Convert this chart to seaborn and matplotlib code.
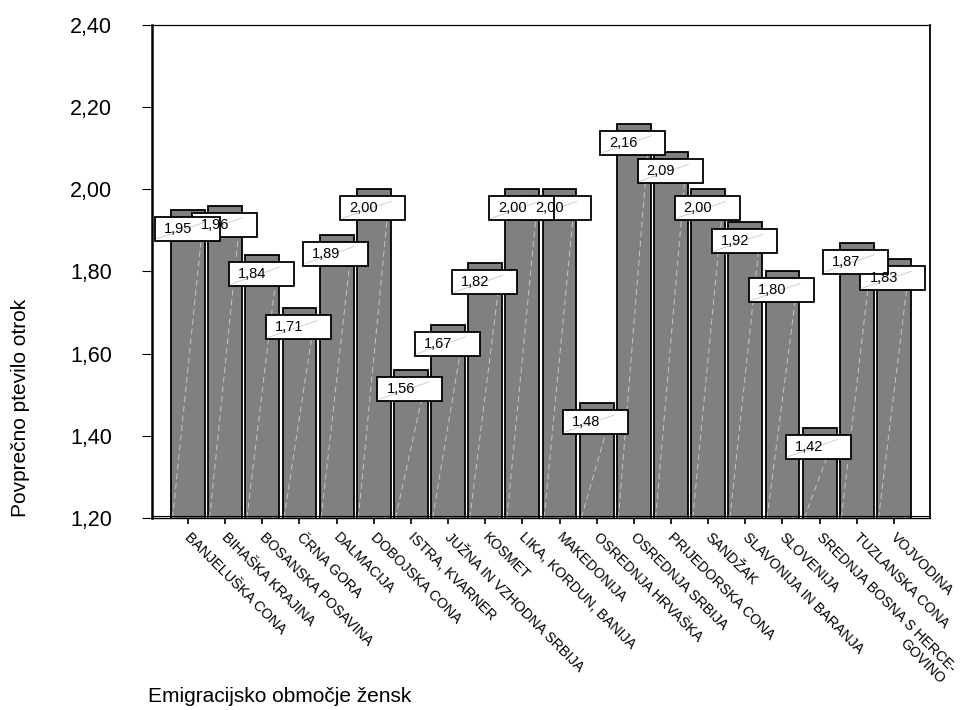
import matplotlib
matplotlib.use("Agg")
import matplotlib.pyplot as plt
import matplotlib.transforms as mtransforms
import numpy as np
import pandas as pd
import seaborn as sns
from matplotlib.patches import Rectangle

categories = [
    "BANJELUŠKA CONA", "BIHAŠKA KRAJINA", "BOSANSKA POSAVINA", "ČRNA GORA",
    "DALMACIJA", "DOBOJSKA CONA", "ISTRA, KVARNER", "JUŽNA IN VZHODNA SRBIJA",
    "KOSMET", "LIKA, KORDUN, BANIJA", "MAKEDONIJA", "OSREDNJA HRVAŠKA",
    "OSREDNJA SRBIJA", "PRIJEDORSKA CONA", "SANDŽAK", "SLAVONIJA IN BARANJA",
    "SLOVENIJA", "SREDNJA BOSNA S HERCE-\nGOVINO", "TUZLANSKA CONA", "VOJVODINA",
]
values = [1.95, 1.96, 1.84, 1.71, 1.89, 2.00, 1.56, 1.67, 1.82, 2.00,
          2.00, 1.48, 2.16, 2.09, 2.00, 1.92, 1.80, 1.42, 1.87, 1.83]
value_labels = ["1,95", "1,96", "1,84", "1,71", "1,89", "2,00", "1,56", "1,67",
                "1,82", "2,00", "2,00", "1,48", "2,16", "2,09", "2,00", "1,92",
                "1,80", "1,42", "1,87", "1,83"]
y_ticks = [1.20, 1.40, 1.60, 1.80, 2.00, 2.20, 2.40]
y_tick_labels = ["1,20", "1,40", "1,60", "1,80", "2,00", "2,20", "2,40"]
y_title = "Povprečno ptevilo otrok"
x_title = "Emigracijsko območje žensk"

sns.set_theme(style="white")
plt.rcParams["font.family"] = ["Liberation Sans", "DejaVu Sans"]
plt.rcParams["text.color"] = "black"
plt.rcParams["xtick.color"] = "black"
plt.rcParams["ytick.color"] = "black"

W, H = 960, 710
fig = plt.figure(figsize=(W / 100, H / 100), dpi=100)
ax_l, ax_r, ax_t, ax_b = 152, 930, 25, 518
ax = fig.add_axes([ax_l / W, 1 - ax_b / H, (ax_r - ax_l) / W, (ax_b - ax_t) / H])

df = pd.DataFrame({"cat": categories, "val": values})
sns.barplot(data=df, x="cat", y="val", color="#808080", saturation=1,
            edgecolor="black", linewidth=1.3, width=0.91, ax=ax, zorder=2)

xlim = (-0.969, 19.97)
ylim = (1.2, 2.4)
ax.set_xlim(*xlim)
ax.set_ylim(*ylim)
ppx = (ax_r - ax_l) / (xlim[1] - xlim[0])
ppy = (ax_b - ax_t) / (ylim[1] - ylim[0])

n = len(values)
bar_w = 0.91
# bar highlight diagonals
for i, v in enumerate(values):
    ax.plot([i - bar_w / 2 + 0.04, i + bar_w / 2 - 0.04], [ylim[0], v - 8 / ppy],
            color="white", lw=0.7, ls=(0, (6, 4)), alpha=0.55, zorder=3)

# label boxes (earlier boxes drawn on top of later ones)
bw, bh = 65 / ppx, 24 / ppy
for i in reversed(range(n)):
    v = values[i]
    left = i - 0.026 - bw / 2
    top = v - 7 / ppy
    z = 5 + (n - i) * 0.01
    ax.add_patch(Rectangle((left, top - bh), bw, bh, facecolor="white",
                           edgecolor="black", lw=1.3, zorder=z))
    ax.plot([left + 2 / ppx, left + 51 / ppx], [top - bh + 2 / ppy, top - 5 / ppy],
            color="#c8c8c8", lw=0.6, zorder=z)
for i in range(n):
    v = values[i]
    left = i - 0.026 - bw / 2
    top = v - 7 / ppy
    ax.text(left + 9 / ppx, top - bh / 2, value_labels[i], ha="left", va="center",
            fontsize=10.5, color="black", zorder=10)

# floor line
ax.axhline(ylim[0] + 2 / ppy, color="black", lw=0.8, zorder=4)

ax.set_yticks(y_ticks)
ax.set_yticklabels(y_tick_labels, fontsize=15.5)
ax.set_xticks(range(n))
ax.set_xticklabels([])
# category labels drawn at tick positions, rotated down-right
base = mtransforms.blended_transform_factory(ax.transData, ax.transAxes)
shift = mtransforms.ScaledTranslation(4 / 100, -12 / 100, fig.dpi_scale_trans)
for i, cat in enumerate(categories):
    ax.text(i, 0, cat, transform=base + shift, rotation=-45, ha="left", va="top",
            rotation_mode="anchor", multialignment="right", fontsize=10.3,
            color="black", clip_on=False)

ax.tick_params(axis="y", left=True, length=7.2, width=0.8, pad=21.6,
               direction="out", colors="black")
ax.tick_params(axis="x", bottom=True, length=4.3, width=1.2, pad=4,
               direction="out", colors="black")
ax.set_xlabel("")
ax.set_ylabel("")

for side, lw in [("left", 1.8), ("top", 0.9), ("right", 1.3), ("bottom", 1.0)]:
    ax.spines[side].set_visible(True)
    ax.spines[side].set_color("black")
    ax.spines[side].set_linewidth(lw)
    ax.spines[side].set_zorder(11)

fig.text(21 / W, 1 - 408 / H, y_title, rotation=90, ha="center", va="center",
         fontsize=15)
fig.text(148 / W, 1 - 696 / H, x_title, ha="left", va="center", fontsize=15)

fig.savefig("out.png", dpi=100)
